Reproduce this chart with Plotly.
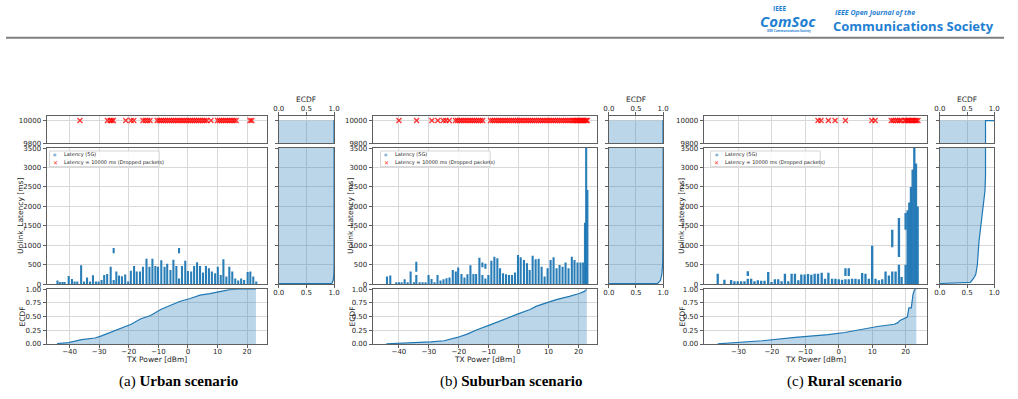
import plotly.graph_objects as go

W, H = 1018, 399
BLUE = '#1f77b4'
BAR_COL = 'rgba(31,119,180,0.95)'
FILL = 'rgba(31,119,180,0.30)'
SPINE = '#5f5f5f'
GRID = '#d9d9d9'
LOGO = '#1f80d2'
DROP_LATENCY = 10000

# ---------------- Urban ----------------
U_X = [-44.1, -43.3, -42.4, -41.7, -40.3, -39.2, -38.3, -37.4, -36.1, -35.1, -34.1, -33.1, -32.1, -31.1,
       -30.2, -29.2, -28.3, -27.3, -26.1, -25.1, -24.2, -23.3, -22.3, -21.2, -20.2, -19.3, -18.2, -17.3,
       -16.2, -15.2, -14.0, -13.0, -12.0, -11.0, -10.1, -9.0, -7.9, -7.0, -5.9, -4.9, -3.9, -3.0, -2.0,
       -0.9, 0.0, 1.1, 2.1, 3.1, 4.1, 5.1, 6.1, 7.1, 8.1, 9.2, 10.1, 11.1, 12.0, 13.0, 14.0, 15.0, 16.0,
       17.0, 18.0, 19.0, 20.2, 21.1, 22.1, 23.1]
U_TOP = [94, 60, 60, 60, 214, 137, 68, 68, 487, 68, 171, 68, 231, 68,
         68, 111, 239, 265, 453, 110, 325, 222, 205, 248, 68, 350, 470, 325,
         325, 453, 658, 453, 658, 470, 453, 616, 453, 530, 368, 633, 470, 150, 470,
         607, 342, 325, 470, 564, 470, 300, 470, 410, 325, 282, 453, 239, 641, 197, 453, 325, 145,
         94, 145, 111, 316, 325, 197, 68]
U_SEG_X = [-25.1, -3.0]
U_SEG_LO = [800, 800]
U_SEG_HI = [930, 930]
U_DROP = [-36.5, -27.2, -26.3, -25.7, -25.2, -21.0, -19.2, -18.3, -15.2, -14.4, -13.6, -12.8,
          -10.4, -9.7, -9.0, -8.3, -7.6, -6.9, -6.2, -5.5, -4.8, -4.1, -3.4, -2.7, -2.0, -1.3, -0.6,
          0.1, 0.8, 1.5, 2.2, 2.9, 3.6, 4.3, 5.0, 5.7, 6.4, 7.8, 10.0, 10.7, 11.4, 12.1, 12.8, 13.5,
          14.2, 14.9, 15.6, 16.3, 21.0, 21.6]
U_CDF_X = [-44.2, -40.3, -35.9, -31.4, -29.2, -25.9, -22.6, -19.2, -15.9, -12.6, -9.2, -5.9, -2.6,
           0.8, 4.1, 7.4, 10.8, 14.1, 17.4, 23.0]
U_CDF_Y = [0.01, 0.025, 0.08, 0.11, 0.15, 0.22, 0.29, 0.36, 0.46, 0.52, 0.63, 0.71, 0.78,
           0.83, 0.89, 0.92, 0.96, 0.99, 1.0, 1.0]
U_LAT_F = [0.0, 0.02, 0.96, 0.985, 0.995, 1.0, 1.0]
U_LAT_V = [0, 15, 25, 100, 260, 500, 3500]
U_F_BEFORE_DROP = 0.999

# ---------------- Suburban ----------------
S_X = [-44.0, -42.9, -40.9, -40.0, -39.1, -38.1, -37.1, -36.1, -35.0, -34.2, -33.1, -32.1, -31.1,
       -30.1, -29.1, -28.1, -27.1, -26.1, -25.1, -24.1, -23.1, -22.0, -21.0, -20.2, -19.1, -18.1,
       -17.1, -16.1, -15.1, -14.2, -13.1, -12.1, -11.1, -10.1, -9.1, -8.1, -7.1, -6.2, -5.2, -4.2,
       -3.2, -2.2, -1.2, -0.2, 0.7, 1.8, 2.8, 3.7, 4.7, 5.7, 6.7, 7.7, 8.7, 9.7, 10.7, 11.7, 12.7,
       13.7, 14.7, 15.7, 16.7, 17.8, 18.7, 19.7, 20.7, 21.6, 22.2, 22.6, 23.0]
S_TOP = [197, 222, 50, 50, 50, 128, 50, 330, 50, 235, 50, 50, 50,
         240, 137, 50, 240, 94, 128, 154, 171, 368, 325, 428, 265, 171,
         257, 487, 265, 265, 684, 240, 150, 240, 607, 710, 667, 410, 282, 257,
         240, 240, 300, 752, 692, 625, 540, 368, 735, 641, 658, 453, 197, 410, 625, 692, 410,
         496, 453, 556, 410, 710, 625, 556, 556, 556, 1580, 3500, 2420]
S_SEG_X = [-34.2, -12.1, -11.1]
S_SEG_LO = [320, 440, 400]
S_SEG_HI = [580, 560, 530]
S_DROP = [-40.0, -34.1, -29.0, -27.0, -25.2, -24.3, -23.2,
          -21.1, -20.4, -19.7, -19.0, -18.3, -17.6, -16.9, -16.2, -15.5, -14.8, -14.1, -13.4, -12.7, -12.0,
          -9.4, -8.7, -8.0, -7.3, -6.6, -5.9, -5.2, -4.5, -3.8, -3.1, -2.4, -1.7, -1.0, -0.3, 0.4, 1.1,
          1.8, 2.5, 3.2, 3.9, 4.6, 5.3, 6.0, 6.7, 7.4, 8.1, 8.8, 9.5, 10.2, 10.9, 11.6, 12.3, 13.0,
          13.7, 14.4, 15.1, 15.8, 16.5, 17.2, 17.9, 18.4, 18.9, 19.4, 19.8, 20.2, 20.6, 21.0, 21.4,
          21.8, 22.2, 22.6, 23.0]
S_CDF_X = [-44.2, -34.8, -29.3, -24.9, -20.5, -17.2, -13.9, -9.5, -5.0, -0.6, 3.8, 6.0, 9.3, 12.6,
           17.0, 20.3, 22.0, 22.7, 22.8]
S_CDF_Y = [0.005, 0.025, 0.04, 0.06, 0.12, 0.18, 0.26, 0.35, 0.45, 0.54, 0.63, 0.69, 0.75, 0.81,
           0.87, 0.92, 0.96, 1.0, 1.0]
S_LAT_F = [0.0, 0.02, 0.9, 0.95, 0.975, 0.99, 0.995, 1.0]
S_LAT_V = [0, 15, 25, 100, 250, 500, 1000, 3500]
S_F_BEFORE_DROP = 0.997

# ---------------- Rural ----------------
R_X = [-36.2, -34.2, -32.2, -31.2, -30.2, -29.2, -28.2, -27.2, -26.2, -25.2, -24.2, -23.2, -22.2,
       -21.1, -20.1, -19.1, -18.1, -17.1, -16.1, -15.1, -14.1, -13.1, -12.1, -11.2, -10.2, -9.2,
       -8.2, -7.2, -6.2, -5.1, -4.1, -3.1, -2.0, -1.0, 0.0, 1.0, 2.0, 3.0, 4.0, 5.0, 6.0, 7.0, 8.0,
       9.0, 10.0, 11.0, 12.0, 13.0, 14.0, 15.0, 16.0, 17.0, 18.0, 18.8, 20.0, 20.6, 21.1, 21.6,
       22.1, 22.6, 23.1, 23.6]
R_TOP = [270, 118, 110, 76, 76, 76, 76, 143, 143, 76, 100, 92, 92,
         312, 60, 126, 126, 76, 270, 76, 270, 270, 100, 253, 253, 262,
         245, 270, 270, 295, 143, 295, 143, 143, 126, 118, 130, 130, 143, 143, 126, 287, 270,
         143, 990, 143, 100, 126, 329, 228, 330, 329, 500, 185, 500, 1900, 2100, 2500,
         2950, 3500, 3100, 2000]
R_SEG_X = [-27.2, 2.0, 3.0, 16.0, 18.0, 20.0]
R_SEG_LO = [210, 210, 210, 950, 700, 1400]
R_SEG_HI = [337, 413, 413, 1400, 1700, 1830]
R_DROP = [-6.2, -5.3, -3.1, -1.1, 2.0, 9.9, 10.9, 15.7, 16.3, 17.0, 17.6, 18.2, 18.7, 19.7, 20.1,
          20.5, 20.9, 21.3, 21.7, 22.1, 22.5, 22.9, 23.3, 23.7]
R_CDF_X = [-36.2, -30.0, -22.9, -13.0, -3.2, 1.8, 6.7, 11.6, 16.6, 17.7, 18.3, 19.5, 20.5, 21.0,
           21.7, 22.2, 22.7, 23.2]
R_CDF_Y = [0.005, 0.025, 0.06, 0.12, 0.17, 0.21, 0.27, 0.32, 0.36, 0.39, 0.43, 0.46, 0.49, 0.66,
           0.66, 0.9, 1.0, 1.0]
R_LAT_F = [0.0, 0.02, 0.56, 0.62, 0.66, 0.69, 0.72, 0.76, 0.80, 0.83, 0.84, 0.84]
R_LAT_V = [0, 20, 50, 150, 250, 500, 1100, 1550, 1950, 2400, 2800, 3500]
R_F_BEFORE_DROP = 0.84

CAPTIONS = ['(a) <b>Urban scenario</b>', '(b) <b>Suburban scenario</b>', '(c) <b>Rural scenario</b>']
LEGEND_LABELS = ['Latency (5G)', 'Latency = 10000 ms (Dropped packets)']
X_TICKS = [[-40, -30, -20, -10, 0, 10, 20], [-40, -30, -20, -10, 0, 10, 20], [-30, -20, -10, 0, 10, 20]]
LAT_TICKS = [0, 500, 1000, 1500, 2000, 2500, 3000, 3500]
TOP_TICKS = [9800, 10000]
CDF_TICKS = [0, 0.25, 0.5, 0.75, 1.0]

DATA = [
    (U_X, U_TOP, U_SEG_X, U_SEG_LO, U_SEG_HI, U_DROP, U_CDF_X, U_CDF_Y, U_LAT_F, U_LAT_V, U_F_BEFORE_DROP),
    (S_X, S_TOP, S_SEG_X, S_SEG_LO, S_SEG_HI, S_DROP, S_CDF_X, S_CDF_Y, S_LAT_F, S_LAT_V, S_F_BEFORE_DROP),
    (R_X, R_TOP, R_SEG_X, R_SEG_LO, R_SEG_HI, R_DROP, R_CDF_X, R_CDF_Y, R_LAT_F, R_LAT_V, R_F_BEFORE_DROP),
]

# ---------------- geometry (pixels) ----------------
MAIN_X = [(41, 264), (371, 598), (706, 932)]
RIGHT_X = [(276, 332), (610, 665), (945, 1000)]
X_RANGES = [[-47.8, 26.7], [-48.8, 26.2], [-40.4, 26.4]]
TOP_Y = (114, 142)
MAIN_Y = (147, 286)
BOT_Y = (291, 347)
YTITLE_X = [14, 348, 683]
YTITLE2_X = [17, 351, 685]
CAP_X = [175, 512, 848]
LEGEND_X = [44, 379, 713]
LEGEND_W = 111
TICK_FONT = dict(family='DejaVu Sans', size=7, color='#262626')


def hx(a, b):
    return [a / W, b / W]


def vy(a, b):
    return [1 - b / H, 1 - a / H]


def px(x):
    return x / W


def py(y):
    return 1 - y / H


def axis(**kw):
    d = dict(showline=True, mirror=True, linecolor=SPINE, linewidth=1, showgrid=True,
             gridcolor=GRID, gridwidth=1, zeroline=False, ticks='outside', ticklen=3,
             tickwidth=1, tickcolor=SPINE, fixedrange=True, tickformat='d', tickfont=TICK_FONT)
    d.update(kw)
    return d


def name(kind, n):
    return kind if n == 1 else f'{kind}{n}'


def note(text, x, y, size, color='#262626', family='DejaVu Sans', xanchor='center', angle=0):
    return dict(text=text, x=px(x), y=py(y), xref='paper', yref='paper', showarrow=False,
                xanchor=xanchor, yanchor='middle', textangle=angle, borderpad=0,
                font=dict(family=family, size=size, color=color))


fig = go.Figure()
layout = {}
annotations = []
shapes = []

for p, (xs, tops, sx, slo, shi, drops, cx, cy, lf, lv, fdrop) in enumerate(DATA):
    base = p * 5
    nm, nt, nb, nrt, nrm = base + 1, base + 2, base + 3, base + 4, base + 5
    xr = X_RANGES[p]
    mx = hx(*MAIN_X[p])
    rx = hx(*RIGHT_X[p])

    # main latency columns (range of observed latency per TX power)
    fig.add_trace(go.Bar(x=xs, y=tops, width=0.7, marker=dict(color=BAR_COL, line=dict(width=0)),
                         showlegend=False, xaxis=name('x', nm), yaxis=name('y', nm)))
    fig.add_trace(go.Bar(x=sx, y=[h - l for h, l in zip(shi, slo)], base=slo, width=0.7,
                         marker=dict(color=BAR_COL, line=dict(width=0)),
                         showlegend=False, xaxis=name('x', nm), yaxis=name('y', nm)))
    # dropped packets
    fig.add_trace(go.Scatter(x=drops, y=[DROP_LATENCY] * len(drops), mode='markers',
                             marker=dict(symbol='x-thin', size=5, color='rgba(255,0,0,0.8)',
                                         line=dict(width=1.3, color='rgba(255,0,0,0.8)')),
                             showlegend=False, xaxis=name('x', nt), yaxis=name('y', nt)))
    # bottom ECDF over TX power
    fig.add_trace(go.Scatter(x=cx, y=cy, mode='lines', fill='tozeroy', fillcolor=FILL,
                             line=dict(color=BLUE, width=1.2), showlegend=False,
                             xaxis=name('x', nb), yaxis=name('y', nb)))
    # right ECDF over latency
    fig.add_trace(go.Scatter(x=lf, y=lv, mode='lines', fill='tozerox', fillcolor=FILL,
                             line=dict(color=BLUE, width=1.2), showlegend=False,
                             xaxis=name('x', nrm), yaxis=name('y', nrm)))
    fig.add_trace(go.Scatter(x=[fdrop, fdrop, 1.0], y=[TOP_TICKS[0], DROP_LATENCY, DROP_LATENCY],
                             mode='lines', fill='tozerox', fillcolor=FILL, line=dict(color=BLUE, width=1.2),
                             showlegend=False, xaxis=name('x', nrt), yaxis=name('y', nrt)))

    # axes
    layout[name('xaxis', nm)] = axis(domain=mx, range=xr, tickvals=X_TICKS[p], showticklabels=False,
                                     ticks='', anchor=name('y', nm))
    layout[name('yaxis', nm)] = axis(domain=vy(*MAIN_Y), range=[0, 3500], tickvals=LAT_TICKS,
                                     anchor=name('x', nm))
    layout[name('xaxis', nt)] = axis(domain=mx, range=xr, tickvals=X_TICKS[p], showticklabels=False,
                                     ticks='', anchor=name('y', nt))
    layout[name('yaxis', nt)] = axis(domain=vy(*TOP_Y), range=[9800, 10043], tickvals=TOP_TICKS,
                                     anchor=name('x', nt))
    layout[name('xaxis', nb)] = axis(domain=mx, range=xr, tickvals=X_TICKS[p], anchor=name('y', nb),
                                     ticklabelstandoff=-2)
    layout[name('yaxis', nb)] = axis(domain=vy(*BOT_Y), range=[0, 1], tickvals=CDF_TICKS,
                                     tickformat='.2f', anchor=name('x', nb))
    layout[name('xaxis', nrt)] = axis(domain=rx, range=[0, 1], tickvals=[0, 0.5, 1], tickformat='.1f',
                                      side='top', anchor=name('y', nrt), ticklabelstandoff=-2)
    layout[name('yaxis', nrt)] = axis(domain=vy(*TOP_Y), range=[9800, 10043], tickvals=TOP_TICKS,
                                      showticklabels=False, anchor=name('x', nrt))
    layout[name('xaxis', nrm)] = axis(domain=rx, range=[0, 1], tickvals=[0, 0.5, 1], tickformat='.1f',
                                      anchor=name('y', nrm), ticklabelstandoff=-2)
    layout[name('yaxis', nrm)] = axis(domain=vy(*MAIN_Y), range=[0, 3500], tickvals=LAT_TICKS,
                                      showticklabels=False, anchor=name('x', nrm))

    # legend box (drawn by hand so it can be as compact as the original)
    lx = LEGEND_X[p]
    shapes.append(dict(type='rect', xref='paper', yref='paper', x0=px(lx), x1=px(lx + LEGEND_W),
                       y0=py(166), y1=py(150), line=dict(color='#d5d5d5', width=1),
                       fillcolor='rgba(255,255,255,0.85)', layer='above'))
    annotations += [
        note('●', lx + 6, 153.8, 4, color='rgba(31,119,180,0.55)'),
        note('✕', lx + 6, 161.5, 6, color='rgba(255,0,0,0.85)'),
        note(LEGEND_LABELS[0], lx + 14, 154, 5, xanchor='left'),
        note(LEGEND_LABELS[1], lx + 14, 161.5, 5, xanchor='left'),
    ]

    annotations += [
        note('Uplink_Latency [ms]', YTITLE_X[p], (MAIN_Y[0] + MAIN_Y[1]) / 2, 7.5, angle=-90),
        note('ECDF', YTITLE2_X[p], (BOT_Y[0] + BOT_Y[1]) / 2, 7.5, angle=-90),
        note('ECDF', (RIGHT_X[p][0] + RIGHT_X[p][1]) / 2, 97.5, 7.5),
        note('TX Power [dBm]', (MAIN_X[p][0] + MAIN_X[p][1]) / 2, 363, 7.5),
        note(CAPTIONS[p], CAP_X[p], 385, 15, color='black', family='Liberation Serif'),
    ]

# header
annotations += [
    note('<b>IEEE</b>', 783, 5, 6.5, color=LOGO, family='Open Sans'),
    note('<b><i>ComSoc</i></b>', 791, 17, 15, color=LOGO, family='Open Sans'),
    note('<b>IEEE Communications Society</b>', 792, 28, 3, color=LOGO, family='Open Sans'),
    note('<b><i>IEEE Open Journal of the</i></b>', 838, 8.5, 7, color=LOGO, family='Open Sans', xanchor='left'),
    note('<b>Communications Society</b>', 836, 22, 13, color=LOGO, family='Open Sans', xanchor='left'),
]
shapes.append(dict(type='line', xref='paper', yref='paper', x0=0, x1=px(1010),
                   y0=py(34.5), y1=py(34.5), line=dict(color='#7f7f7f', width=2)))

layout.update(
    width=W, height=H, autosize=False, margin=dict(l=0, r=0, t=0, b=0),
    paper_bgcolor='white', plot_bgcolor='white', barmode='overlay', showlegend=False,
    annotations=annotations, shapes=shapes,
)
fig.update_layout(**layout)
fig.write_html('out.html')
